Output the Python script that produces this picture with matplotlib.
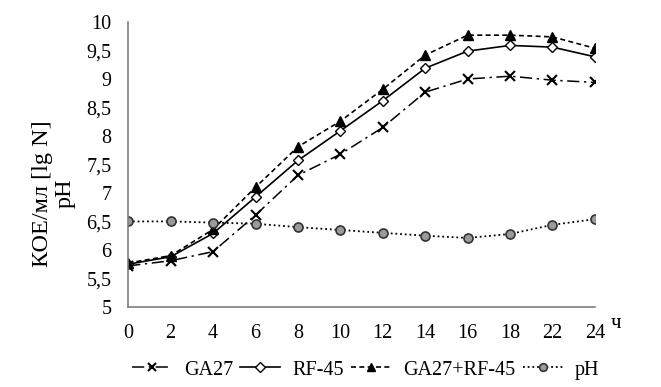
import matplotlib
matplotlib.use('Agg')
import matplotlib.pyplot as plt

# Hours (categorical axis, as in the original)
hours = ['0', '2', '4', '6', '8', '10', '12', '14', '16', '18', '22', '24']

ga27 = [5.72, 5.81, 5.97, 6.61, 7.31, 7.68, 8.15, 8.77, 9.00, 9.05, 8.98, 8.94]
rf45 = [5.75, 5.88, 6.29, 6.93, 7.57, 8.09, 8.62, 9.19, 9.49, 9.59, 9.56, 9.39]
mix = [5.77, 5.90, 6.36, 7.10, 7.81, 8.26, 8.82, 9.42, 9.77, 9.77, 9.74, 9.54]
ph = [6.50, 6.50, 6.48, 6.46, 6.40, 6.35, 6.30, 6.25, 6.21, 6.28, 6.44, 6.54]

yticks = [5, 5.5, 6, 6.5, 7, 7.5, 8, 8.5, 9, 9.5, 10]

plt.rcParams['font.family'] = ['Liberation Serif', 'DejaVu Serif']

fig = plt.figure(figsize=(6.61, 3.87), dpi=100)
ax = fig.add_axes([0.194, 0.207, 0.706, 0.736])

x = list(range(len(hours)))

ax.plot(x, ga27, color='black', lw=1.1, ls=(0, (8, 3, 1.5, 3)), marker='x', ms=7.5, mew=1.5,
        label='GA27')
ax.plot(x, rf45, color='black', lw=1.2, ls='-', marker='D', ms=5.5, mfc='white', mec='black',
        mew=1.0, label='RF-45')
ax.plot(x, mix, color='black', lw=1.2, ls=(0, (3, 2)), marker='^', ms=6.5, mfc='black',
        label='GA27+RF-45')
ax.plot(x, ph, color='black', lw=1.3, ls=(0, (1, 1.6)), marker='o', ms=6.5, mfc='#9a9a9a',
        mec='#333333', mew=1.2, label='pH')

ax.set_xlim(0, len(hours) - 1)
ax.set_ylim(5, 10)
ax.set_xticks(x)
ax.set_xticklabels(hours)
ax.set_yticks(yticks)
ax.set_yticklabels([('%g' % v).replace('.', ',') for v in yticks])
ax.tick_params(length=0, labelsize=14.5)
ax.tick_params(axis='y', pad=12)
ax.tick_params(axis='x', pad=12)

for s in ['top', 'right']:
    ax.spines[s].set_visible(False)
for s in ['left', 'bottom']:
    ax.spines[s].set_color('#7f7f7f')
    ax.spines[s].set_linewidth(1.2)

fig.text(0.064, 0.50, 'КОЕ/мл [lg N]', rotation=90, fontsize=17.5, ha='center', va='center')
fig.text(0.099, 0.50, 'pH', rotation=90, fontsize=17.5, ha='center', va='center')
fig.text(0.932, 0.163, 'ч', fontsize=15, ha='center', va='center')

fig.legend(loc='center', bbox_to_anchor=(0.553, 0.044), ncol=4, frameon=False,
           fontsize=14.5, handlelength=2.0, handletextpad=0.6, columnspacing=0.35,
           markerscale=0.85)

fig.savefig('out.png', dpi=100)
